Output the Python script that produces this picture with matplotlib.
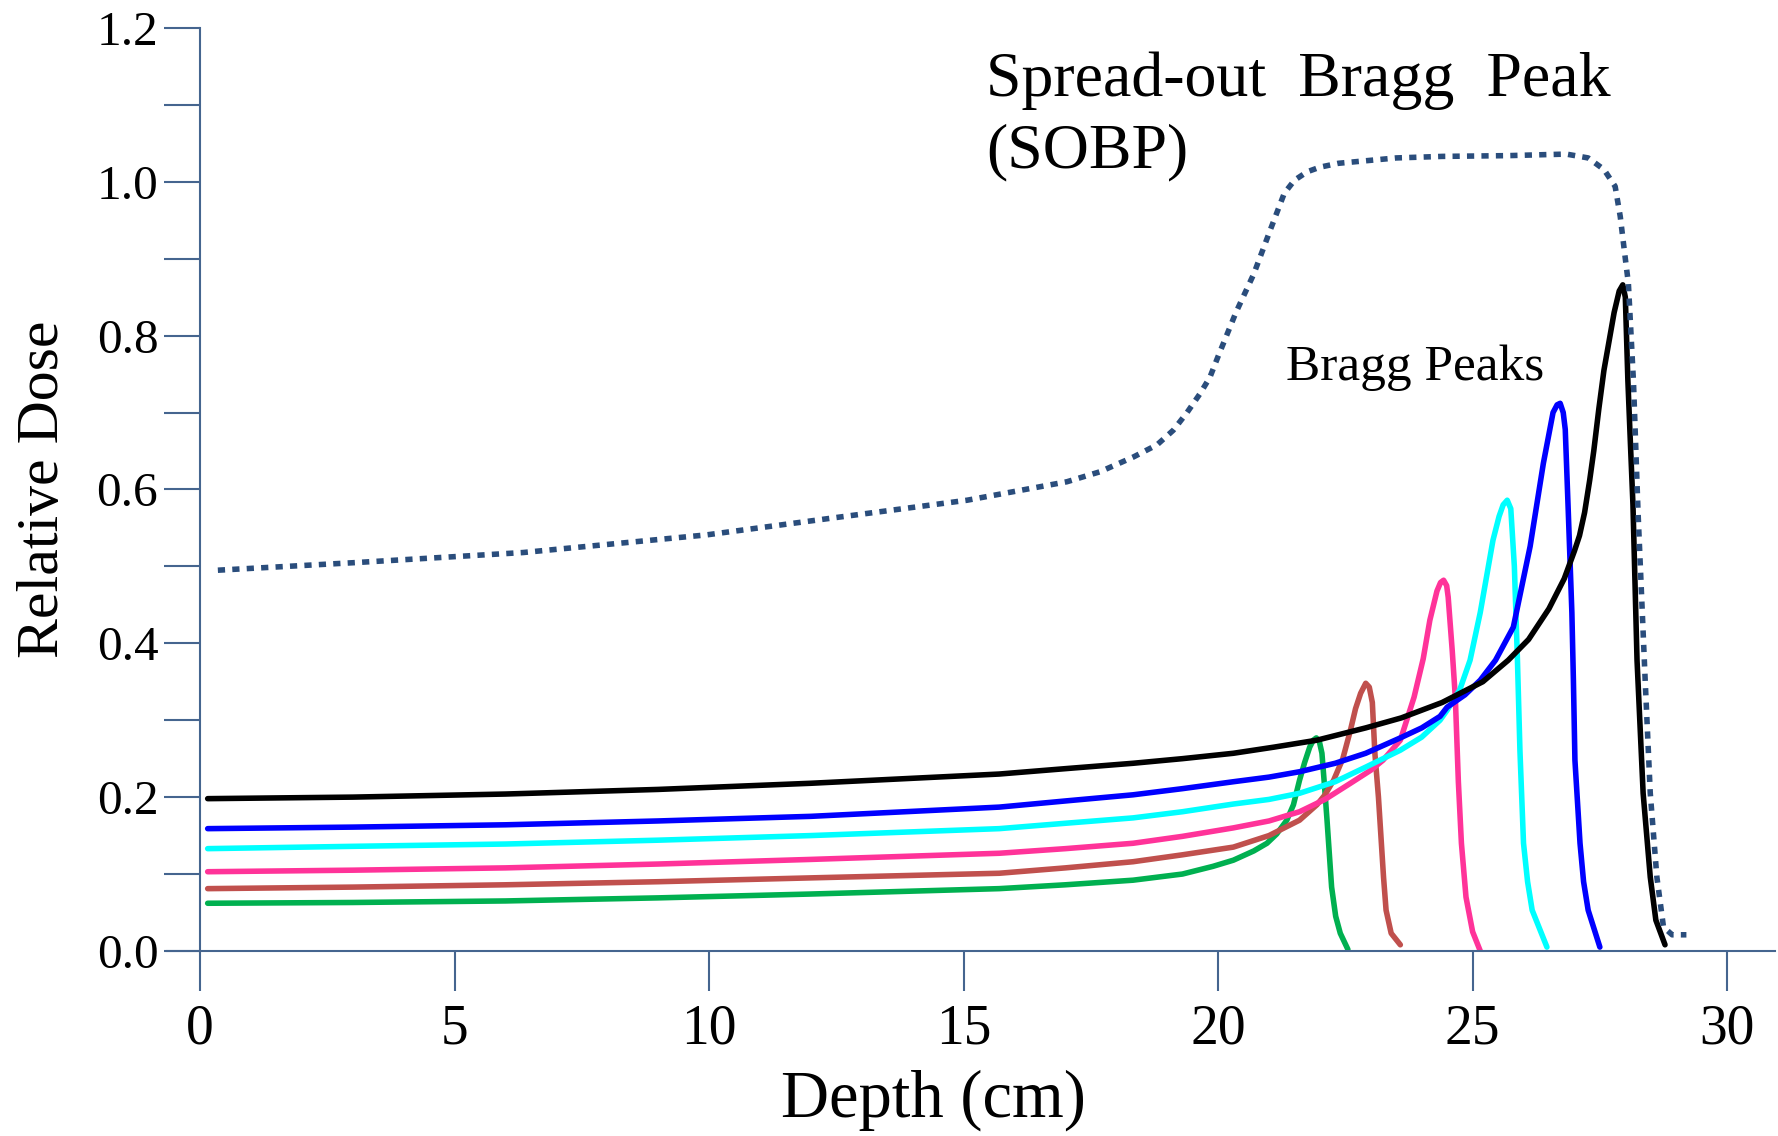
import matplotlib
matplotlib.use("Agg")
import matplotlib.pyplot as plt
from matplotlib.ticker import MultipleLocator, FormatStrFormatter

plt.rcParams['font.family'] = ['Liberation Serif', 'DejaVu Serif']

# depth (cm) / relative dose for each pristine Bragg curve
green_depth = [0.15, 3, 6, 9, 12, 15.7, 17, 18.33, 19.3, 19.9, 20.3, 20.7, 20.96,
               21.15, 21.35, 21.48, 21.6, 21.7, 21.8, 21.87, 21.93, 21.99, 22.04,
               22.09, 22.14, 22.23, 22.31, 22.4, 22.55]
green_dose = [0.062, 0.063, 0.065, 0.069, 0.074, 0.081, 0.086, 0.092, 0.100, 0.110,
              0.118, 0.130, 0.140, 0.152, 0.170, 0.190, 0.222, 0.245, 0.265, 0.274,
              0.277, 0.272, 0.257, 0.215, 0.170, 0.083, 0.045, 0.023, 0.002]

brown_depth = [0.15, 3, 6, 9, 12, 15.7, 17, 18.33, 19.3, 20.3, 21.0, 21.6, 21.94,
               22.1, 22.27, 22.45, 22.6, 22.7, 22.8, 22.9, 22.97, 23.03, 23.08,
               23.15, 23.25, 23.3, 23.4, 23.58]
brown_dose = [0.081, 0.083, 0.086, 0.090, 0.095, 0.101, 0.108, 0.116, 0.125, 0.135,
              0.150, 0.170, 0.190, 0.203, 0.222, 0.250, 0.287, 0.315, 0.335, 0.348,
              0.343, 0.323, 0.257, 0.200, 0.096, 0.053, 0.023, 0.008]

pink_depth = [0.15, 3, 6, 9, 12, 15.7, 17, 18.33, 19.3, 20.3, 21.0, 21.6, 22.1, 22.6,
              23.0, 23.24, 23.58, 23.85, 24.03, 24.16, 24.3, 24.37, 24.43, 24.49,
              24.52, 24.6, 24.66, 24.72, 24.78, 24.87, 25.0, 25.15]
pink_dose = [0.103, 0.105, 0.108, 0.113, 0.119, 0.127, 0.133, 0.140, 0.149, 0.160,
             0.169, 0.181, 0.197, 0.218, 0.235, 0.248, 0.274, 0.330, 0.380, 0.430,
             0.468, 0.479, 0.482, 0.475, 0.460, 0.390, 0.330, 0.220, 0.140, 0.070,
             0.025, 0.0]

cyan_depth = [0.15, 3, 6, 9, 12, 15.7, 17, 18.33, 19.3, 20.3, 21.0, 21.6, 22.3, 22.9,
              23.58, 24.0, 24.36, 24.5, 24.75, 24.95, 25.15, 25.4, 25.52, 25.6, 25.68,
              25.75, 25.82, 25.88, 25.93, 26.0, 26.08, 26.17, 26.46]
cyan_dose = [0.133, 0.136, 0.139, 0.144, 0.150, 0.159, 0.166, 0.173, 0.181, 0.191,
             0.197, 0.205, 0.220, 0.239, 0.261, 0.278, 0.300, 0.313, 0.340, 0.378,
             0.440, 0.534, 0.565, 0.580, 0.586, 0.575, 0.500, 0.380, 0.260, 0.140,
             0.090, 0.053, 0.005]

blue_depth = [0.15, 3, 6, 9, 12, 15.7, 17, 18.33, 19.3, 20.3, 21.0, 21.6, 22.3, 22.9,
              23.58, 24.0, 24.36, 24.5, 24.85, 25.15, 25.45, 25.8, 26.13, 26.39,
              26.58, 26.66, 26.72, 26.78, 26.82, 26.88, 26.95, 26.98, 27.01, 27.11,
              27.18, 27.27, 27.5]
blue_dose = [0.159, 0.161, 0.164, 0.169, 0.175, 0.187, 0.195, 0.203, 0.211, 0.220,
             0.226, 0.233, 0.244, 0.257, 0.277, 0.290, 0.305, 0.317, 0.333, 0.352,
             0.378, 0.421, 0.526, 0.634, 0.700, 0.710, 0.712, 0.700, 0.678, 0.570,
             0.440, 0.352, 0.248, 0.140, 0.090, 0.053, 0.005]

black_depth = [0.15, 3, 6, 9, 12, 15.7, 17, 18.33, 19.3, 20.3, 21.1, 21.94, 22.9,
               23.6, 24.4, 25.2, 25.7, 26.1, 26.5, 26.8, 27.0, 27.1, 27.2, 27.3,
               27.38, 27.48, 27.58, 27.7, 27.78, 27.88, 27.95, 28.0, 28.05, 28.1,
               28.15, 28.23, 28.35, 28.49, 28.6, 28.78]
black_dose = [0.198, 0.200, 0.204, 0.210, 0.218, 0.230, 0.237, 0.244, 0.250, 0.257,
              0.265, 0.274, 0.290, 0.303, 0.323, 0.350, 0.378, 0.405, 0.445, 0.484,
              0.520, 0.540, 0.570, 0.612, 0.650, 0.705, 0.755, 0.800, 0.830, 0.858,
              0.866, 0.850, 0.742, 0.660, 0.580, 0.378, 0.205, 0.096, 0.040, 0.008]

# spread-out Bragg peak (sum of the weighted pristine peaks)
sobp_depth = [0.35, 3.08, 6.35, 9.96, 12.44, 15.07, 17.03, 17.68, 18.33, 18.8, 19.12,
              19.39, 19.65, 19.84, 20.0, 20.35, 20.7, 21.04, 21.3, 21.5, 21.75, 22.0,
              22.36, 23.5, 24.4, 25.7, 26.84, 27.27, 27.58, 27.8, 27.9, 28.0, 28.06,
              28.16, 28.25, 28.39, 28.49, 28.62, 28.75, 28.92, 29.2]
sobp_dose = [0.495, 0.505, 0.518, 0.541, 0.563, 0.586, 0.610, 0.623, 0.642, 0.658,
             0.677, 0.700, 0.725, 0.746, 0.773, 0.830, 0.880, 0.940, 0.985, 1.002,
             1.013, 1.019, 1.024, 1.031, 1.033, 1.034, 1.036, 1.031, 1.016, 0.994,
             0.955, 0.900, 0.868, 0.740, 0.570, 0.352, 0.205, 0.096, 0.031, 0.021,
             0.021]

x_ticks = [0, 5, 10, 15, 20, 25, 30]
axis_color = '#45658f'

fig = plt.figure(figsize=(17.78, 11.36), dpi=100)
ax = fig.add_axes([0.0939, 0.1629, 0.9044, 0.8125])

curves = [
    (green_depth, green_dose, '#00b050'),
    (brown_depth, brown_dose, '#c0504d'),
    (pink_depth, pink_dose, '#ff3399'),
    (cyan_depth, cyan_dose, '#00ffff'),
    (blue_depth, blue_dose, '#0000ff'),
    (black_depth, black_dose, '#000000'),
]
for d, v, c in curves:
    ax.plot(d, v, color=c, lw=4.0, solid_capstyle='round', solid_joinstyle='round')

ax.plot(sobp_depth, sobp_dose, color='#2a4d7c', lw=4.0,
        linestyle=(0, (1.3, 1.3)), dash_capstyle='butt')

ax.set_xlim(-0.65, 30.94)
ax.set_ylim(0, 1.2)

for side in ('top', 'right'):
    ax.spines[side].set_visible(False)
ax.spines['left'].set_position(('data', 0))
for side in ('left', 'bottom'):
    ax.spines[side].set_color(axis_color)
    ax.spines[side].set_linewidth(1.5)

ax.set_xticks(x_ticks)
ax.yaxis.set_major_locator(MultipleLocator(0.2))
ax.yaxis.set_minor_locator(MultipleLocator(0.1))
ax.yaxis.set_major_formatter(FormatStrFormatter('%.1f'))

ax.tick_params(axis='x', which='major', direction='out', length=29, width=1.5,
               color=axis_color, labelsize=40, pad=9)
ax.tick_params(axis='y', which='both', direction='out', length=26, width=1.5,
               color=axis_color, labelsize=35.5, pad=4)

ax.set_xlabel('Depth (cm)', fontsize=48)
ax.xaxis.set_label_coords(0.4764, -0.128)
ax.set_ylabel('Relative Dose', fontsize=43)
ax.yaxis.set_label_coords(-0.0595, 0.5)

ax.text(15.44, 1.112, 'Spread-out  Bragg  Peak', fontsize=46, ha='left', va='baseline',
        clip_on=False)
ax.text(15.44, 1.018, '(SOBP)', fontsize=46, ha='left', va='baseline', clip_on=False)
ax.text(21.34, 0.7425, 'Bragg Peaks', fontsize=37, ha='left', va='baseline')

fig.savefig('out.png', dpi=100)
